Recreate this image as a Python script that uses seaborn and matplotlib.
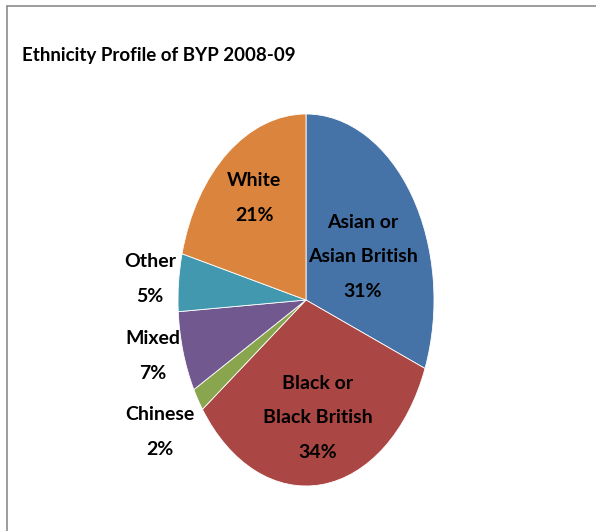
import matplotlib
matplotlib.use("Agg")
import matplotlib.pyplot as plt
import seaborn as sns
from matplotlib.lines import Line2D

categories = ["Asian or\nAsian British", "Black or\nBlack British", "Chinese", "Mixed", "Other", "White"]
values = [31, 34, 2, 7, 5, 21]
colors = ["#4572A7", "#AA4643", "#89A54E", "#71588F", "#4198AF", "#DB843D"]
title = "Ethnicity Profile of BYP 2008-09"

sns.set_theme(style="white")
plt.rcParams["font.family"] = ["Lato", "DejaVu Sans"]

fig = plt.figure(figsize=(5.96, 5.31), dpi=100)
fig.patch.set_facecolor("white")
W, H = 596, 531
ax = fig.add_axes([178 / W, 1 - 486 / H, 256 / W, 372 / H])
palette = sns.color_palette(colors)
ax.pie(values, colors=palette, startangle=90, counterclock=False,
       wedgeprops=dict(linewidth=0.6, edgecolor="white"))
ax.set_aspect("auto")
ax.set_xlim(-1, 1)
ax.set_ylim(-1, 1)
ax.axis("off")

label_pos = [(0.445, 0.232), (0.094, -0.634), (-1.14, -0.71),
             (-1.20, -0.30), (-1.22, 0.113), (-0.406, 0.548)]
for cat, v, (x, y) in zip(categories, values, label_pos):
    ax.text(x, y, f"{cat}\n{v}%", ha="center", va="center", fontsize=14,
            fontweight="bold", linespacing=2.25, color="black", clip_on=False)

fig.text(22 / W, 1 - 56 / H, title, ha="left", va="center", fontsize=13.5,
         fontweight="bold", color="black")

fig.add_artist(Line2D([7 / W, 7 / W], [0, 1 - 6 / H], transform=fig.transFigure,
                      color="#8c8c8c", linewidth=1.2))
fig.add_artist(Line2D([7 / W, 1], [1 - 6 / H, 1 - 6 / H], transform=fig.transFigure,
                      color="#8c8c8c", linewidth=1.2))

fig.savefig("out.png", dpi=100, facecolor="white")
